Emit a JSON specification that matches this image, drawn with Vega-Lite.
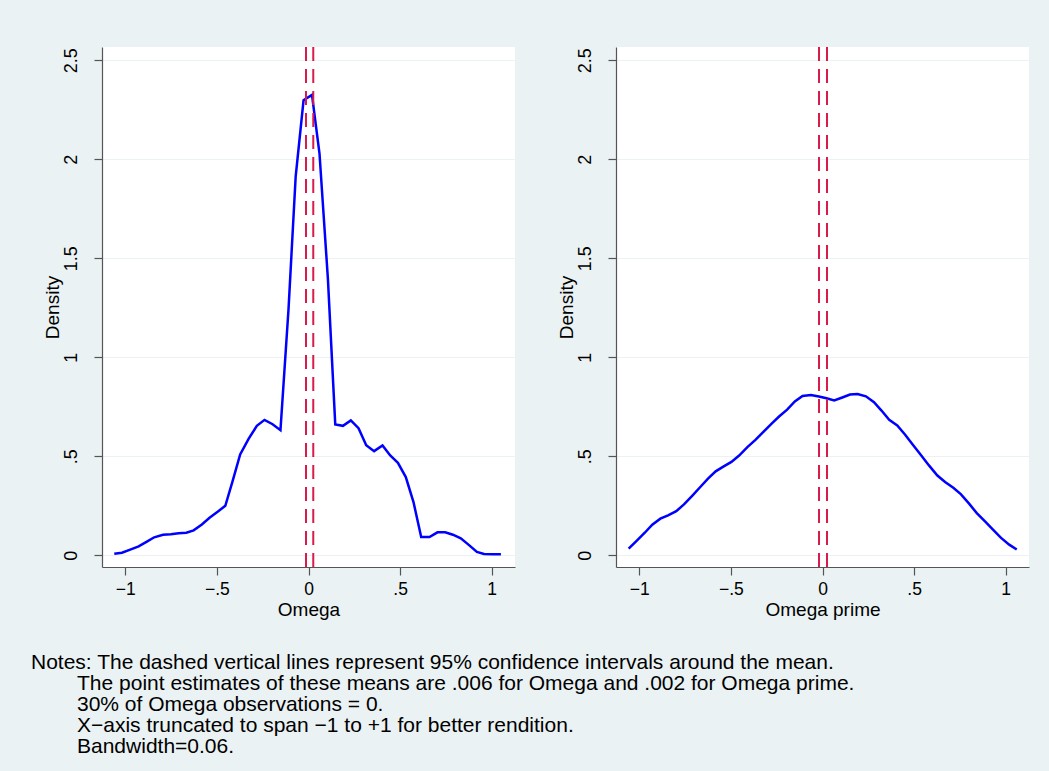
{
  "$schema": "https://vega.github.io/schema/vega-lite/v6.json",
  "background": "#EAF2F3",
  "padding": {"left": 30, "top": 46, "right": 23, "bottom": 14},
  "datasets": {
    "omega": [
      {"x": -1.06, "y": 0.008}, {"x": -1.018, "y": 0.013}, {"x": -0.973, "y": 0.029}, {"x": -0.927, "y": 0.045},
      {"x": -0.882, "y": 0.069}, {"x": -0.842, "y": 0.091}, {"x": -0.794, "y": 0.104}, {"x": -0.751, "y": 0.106},
      {"x": -0.709, "y": 0.111}, {"x": -0.667, "y": 0.114}, {"x": -0.627, "y": 0.126}, {"x": -0.582, "y": 0.156},
      {"x": -0.54, "y": 0.19}, {"x": -0.496, "y": 0.22}, {"x": -0.454, "y": 0.25}, {"x": -0.413, "y": 0.378},
      {"x": -0.373, "y": 0.509}, {"x": -0.327, "y": 0.588}, {"x": -0.282, "y": 0.654}, {"x": -0.24, "y": 0.684},
      {"x": -0.196, "y": 0.662}, {"x": -0.153, "y": 0.632}, {"x": -0.109, "y": 1.244}, {"x": -0.07, "y": 1.913},
      {"x": -0.027, "y": 2.298}, {"x": 0.019, "y": 2.325}, {"x": 0.06, "y": 2.029}, {"x": 0.106, "y": 1.395},
      {"x": 0.146, "y": 0.661}, {"x": 0.188, "y": 0.654}, {"x": 0.231, "y": 0.681}, {"x": 0.273, "y": 0.642},
      {"x": 0.315, "y": 0.556}, {"x": 0.358, "y": 0.526}, {"x": 0.404, "y": 0.555}, {"x": 0.446, "y": 0.504},
      {"x": 0.488, "y": 0.467}, {"x": 0.531, "y": 0.395}, {"x": 0.573, "y": 0.269}, {"x": 0.615, "y": 0.092},
      {"x": 0.66, "y": 0.092}, {"x": 0.704, "y": 0.116}, {"x": 0.746, "y": 0.116}, {"x": 0.788, "y": 0.104},
      {"x": 0.831, "y": 0.086}, {"x": 0.873, "y": 0.054}, {"x": 0.919, "y": 0.017}, {"x": 0.958, "y": 0.007},
      {"x": 1.006, "y": 0.005}, {"x": 1.05, "y": 0.005}
    ],
    "omegaprime": [
      {"x": -1.058, "y": 0.034}, {"x": -1.016, "y": 0.072}, {"x": -0.97, "y": 0.114}, {"x": -0.929, "y": 0.155},
      {"x": -0.885, "y": 0.185}, {"x": -0.843, "y": 0.202}, {"x": -0.798, "y": 0.223}, {"x": -0.756, "y": 0.257},
      {"x": -0.71, "y": 0.301}, {"x": -0.667, "y": 0.345}, {"x": -0.625, "y": 0.387}, {"x": -0.583, "y": 0.424},
      {"x": -0.539, "y": 0.449}, {"x": -0.497, "y": 0.472}, {"x": -0.455, "y": 0.504}, {"x": -0.41, "y": 0.546},
      {"x": -0.366, "y": 0.583}, {"x": -0.324, "y": 0.622}, {"x": -0.279, "y": 0.664}, {"x": -0.237, "y": 0.701},
      {"x": -0.193, "y": 0.736}, {"x": -0.151, "y": 0.777}, {"x": -0.109, "y": 0.805}, {"x": -0.063, "y": 0.81},
      {"x": -0.02, "y": 0.802}, {"x": 0.022, "y": 0.793}, {"x": 0.064, "y": 0.782}, {"x": 0.108, "y": 0.797},
      {"x": 0.15, "y": 0.812}, {"x": 0.191, "y": 0.815}, {"x": 0.237, "y": 0.803}, {"x": 0.281, "y": 0.773},
      {"x": 0.322, "y": 0.731}, {"x": 0.364, "y": 0.684}, {"x": 0.408, "y": 0.656}, {"x": 0.45, "y": 0.61},
      {"x": 0.492, "y": 0.56}, {"x": 0.536, "y": 0.508}, {"x": 0.581, "y": 0.454}, {"x": 0.627, "y": 0.403},
      {"x": 0.669, "y": 0.37}, {"x": 0.714, "y": 0.341}, {"x": 0.756, "y": 0.308}, {"x": 0.8, "y": 0.261},
      {"x": 0.842, "y": 0.213}, {"x": 0.887, "y": 0.171}, {"x": 0.929, "y": 0.131}, {"x": 0.973, "y": 0.089},
      {"x": 1.019, "y": 0.054}, {"x": 1.06, "y": 0.029}
    ],
    "ci": [
      {"panel": "Omega", "x": -0.0136}, {"panel": "Omega", "x": 0.026},
      {"panel": "Omega prime", "x": -0.019}, {"panel": "Omega prime", "x": 0.0246}
    ]
  },
  "title": {
    "text": [
      "The point estimates of these means are .006 for Omega and .002 for Omega prime.",
      "30% of Omega observations = 0.",
      "X\u2212axis truncated to span \u22121 to +1 for better rendition.",
      "Bandwidth=0.06."
    ],
    "orient": "bottom",
    "anchor": "start",
    "frame": "bounds",
    "font": "Liberation Sans",
    "fontSize": 21,
    "fontWeight": "normal",
    "color": "#000000",
    "lineHeight": 21,
    "offset": 0,
    "dx": 46
  },
  "vconcat": [
    {
      "title": {
        "text": "Notes: The dashed vertical lines represent 95% confidence intervals around the mean.",
        "orient": "bottom",
        "anchor": "start",
        "frame": "bounds",
        "font": "Liberation Sans",
        "fontSize": 21,
        "fontWeight": "normal",
        "color": "#000000",
        "lineHeight": 21,
        "offset": 32,
        "dx": -12
      },
      "spacing": 41,
      "hconcat": [
        {
          "width": 413,
          "height": 520,
          "layer": [
            {
              "data": {"name": "omega"},
              "mark": {"type": "line", "color": "#0000FF", "strokeWidth": 2.5},
              "encoding": {
                "x": {"field": "x", "type": "quantitative", "scale": {"domain": [-1.127, 1.127], "nice": false, "zero": false},
                  "axis": {"title": "Omega", "values": [-1, -0.5, 0, 0.5, 1], "grid": false, "format": "~g",
                    "labelExpr": "datum.value == -0.5 ? '\u2212.5' : datum.value == 0.5 ? '.5' : datum.label"}},
                "y": {"field": "y", "type": "quantitative", "scale": {"domain": [-0.059, 2.567], "nice": false, "zero": false},
                  "axis": {"title": "Density", "values": [0, 0.5, 1, 1.5, 2, 2.5], "grid": true, "format": "~g",
                    "labelAngle": -90, "labelAlign": "center", "labelBaseline": "bottom", "labelPadding": 14,
                    "labelExpr": "datum.value == 0.5 ? '.5' : datum.label"}}
              }
            },
            {
              "data": {"name": "ci"},
              "transform": [{"filter": "datum.panel == 'Omega'"}],
              "mark": {"type": "rule", "color": "#D81B4A", "strokeWidth": 2, "strokeDash": [14, 8]},
              "encoding": {"x": {"field": "x", "type": "quantitative"}}
            }
          ]
        },
        {
          "width": 413,
          "height": 520,
          "layer": [
            {
              "data": {"name": "omegaprime"},
              "mark": {"type": "line", "color": "#0000FF", "strokeWidth": 2.5},
              "encoding": {
                "x": {"field": "x", "type": "quantitative", "scale": {"domain": [-1.127, 1.127], "nice": false, "zero": false},
                  "axis": {"title": "Omega prime", "values": [-1, -0.5, 0, 0.5, 1], "grid": false, "format": "~g",
                    "labelExpr": "datum.value == -0.5 ? '\u2212.5' : datum.value == 0.5 ? '.5' : datum.label"}},
                "y": {"field": "y", "type": "quantitative", "scale": {"domain": [-0.059, 2.567], "nice": false, "zero": false},
                  "axis": {"title": "Density", "values": [0, 0.5, 1, 1.5, 2, 2.5], "grid": true, "format": "~g",
                    "labelAngle": -90, "labelAlign": "center", "labelBaseline": "bottom", "labelPadding": 14,
                    "labelExpr": "datum.value == 0.5 ? '.5' : datum.label"}}
              }
            },
            {
              "data": {"name": "ci"},
              "transform": [{"filter": "datum.panel == 'Omega prime'"}],
              "mark": {"type": "rule", "color": "#D81B4A", "strokeWidth": 2, "strokeDash": [14, 8]},
              "encoding": {"x": {"field": "x", "type": "quantitative"}}
            }
          ]
        }
      ]
    }
  ],
  "config": {
    "font": "Liberation Sans",
    "view": {"fill": "#FFFFFF", "stroke": null},
    "axis": {
      "domainColor": "#555555",
      "domainWidth": 1.2,
      "tickColor": "#555555",
      "tickSize": 8,
      "tickWidth": 1.2,
      "gridColor": "#EAF2F3",
      "gridWidth": 1.2,
      "labelColor": "#000000",
      "labelFont": "Liberation Sans",
      "labelFontSize": 18,
      "titleColor": "#000000",
      "titleFont": "Liberation Sans",
      "titleFontSize": 19,
      "titleFontWeight": "normal",
      "titlePadding": 0
    },
    "axisX": {"labelPadding": 5, "labelFontSize": 17.5, "titlePadding": 3}
  }
}
